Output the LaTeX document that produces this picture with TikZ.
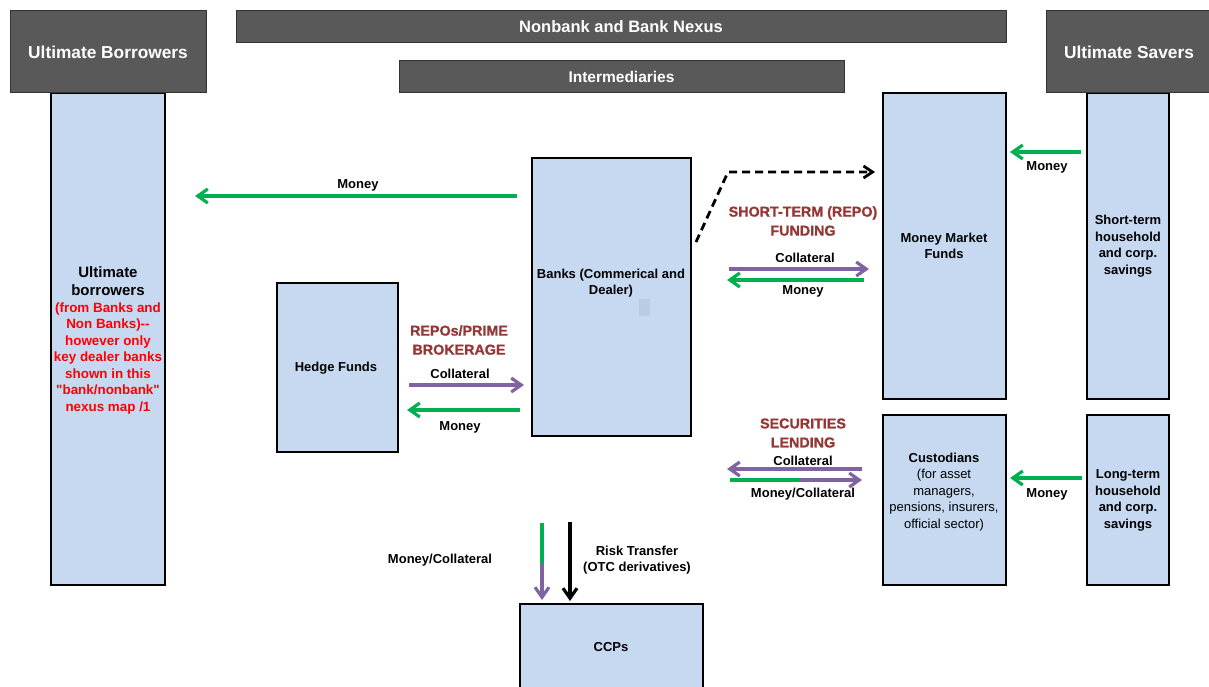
\documentclass[tikz,border=0pt]{standalone}
\usepackage{fontspec}
\setmainfont{Liberation Sans}
\newfontfamily\heavyfont[FakeBold=1.2]{Liberation Sans Bold}
\usetikzlibrary{arrows.meta}
\definecolor{hdr}{HTML}{595959}
\definecolor{boxblue}{HTML}{C6D9F1}
\definecolor{mgreen}{HTML}{00B050}
\definecolor{mpurple}{HTML}{8064A2}
\definecolor{dred}{HTML}{953735}
\definecolor{redtxt}{HTML}{FF0000}
\definecolor{patchblue}{HTML}{B8CCE4}
\tikzset{
  hdrbox/.style={draw=black!80, line width=1pt, fill=hdr, inner sep=0pt, text=white, font=\bfseries\fontsize{15.5}{18}\selectfont},
  bluebox/.style={draw=black, line width=2pt, fill=boxblue, inner sep=0pt},
  lbl/.style={font=\bfseries\fontsize{13}{16.5}\selectfont, align=center, inner sep=0pt},
  reglbl/.style={font=\fontsize{13}{16.5}\selectfont, align=center, inner sep=0pt},
  flowlbl/.style={text=dred, font=\heavyfont\fontsize{14.3}{19}\selectfont, align=center, inner sep=0pt},
  arr/.style={line width=3.2pt, -{Straight Barb[length=10pt,width=14pt]}},
  money/.style={arr, draw=mgreen},
  coll/.style={arr, draw=mpurple},
}
\begin{document}
\begin{tikzpicture}[x=1pt,y=-1pt]
\useasboundingbox (0,0) rectangle (1209,687);
% blue boxes
\node[bluebox, minimum width=114pt, minimum height=492pt] (ub) at (108,339) {};
\node[bluebox, minimum width=121pt, minimum height=169pt] (hf) at (337.5,367.5) {};
\node[bluebox, minimum width=159pt, minimum height=278pt] (banks) at (611.5,297) {};
\node[bluebox, minimum width=123pt, minimum height=306pt] (mmf) at (944.5,246) {};
\node[bluebox, minimum width=82pt, minimum height=306pt] (st) at (1128,246) {};
\node[bluebox, minimum width=123pt, minimum height=170pt] (cust) at (944.5,500) {};
\node[bluebox, minimum width=82pt, minimum height=170pt] (lt) at (1128,500) {};
\node[bluebox, minimum width=183pt, minimum height=96pt] (ccp) at (611.5,652) {};
\fill[patchblue] (639,299) rectangle (650,316);
% headers
\node[hdrbox, minimum width=196pt, minimum height=82pt, font=\bfseries\fontsize{17.3}{18}\selectfont] (ubh) at (108,52) {Ultimate Borrowers};
\node[hdrbox, minimum width=770pt, minimum height=32pt, font=\bfseries\fontsize{16.5}{18}\selectfont] (nexus) at (621,27) {Nonbank and Bank Nexus};
\node[hdrbox, minimum width=445pt, minimum height=32pt] (inter) at (621.5,77) {Intermediaries};
\node[hdrbox, minimum width=166pt, minimum height=82pt, font=\bfseries\fontsize{17.3}{18}\selectfont] (ush) at (1129,52) {Ultimate Savers};
% box texts
\node[lbl, font=\bfseries\fontsize{15}{18}\selectfont] (ubt) at (108,281) {Ultimate\\borrowers};
\node[lbl, text=redtxt, font=\bfseries\fontsize{13.4}{16.5}\selectfont] (ubr) at (108,358.5) {(from Banks and\\Non Banks)-{}-\\however only\\key dealer banks\\shown in this\\\textquotedbl bank/nonbank\textquotedbl\\nexus map /1};
\node[lbl] (hft) at (336,368) {Hedge Funds};
\node[lbl, font=\bfseries\fontsize{13}{16}\selectfont] (bt) at (611,283) {Banks (Commerical and\\Dealer)};
\node[lbl] (mmft) at (944,246) {Money Market\\Funds};
\node[lbl] (stt) at (1128,246) {Short-term\\household\\and corp.\\savings};
\node[reglbl] (custt) at (944,492) {\textbf{Custodians}\\(for asset\\managers,\\pensions, insurers,\\official sector)};
\node[lbl] (ltt) at (1128,500.5) {Long-term\\household\\and corp.\\savings};
\node[lbl] (ccpt) at (611,647) {CCPs};
% flow labels
\node[lbl] (l1) at (358,185) {Money};
\node[flowlbl] (l2) at (803,221) {SHORT-TERM (REPO)\\FUNDING};
\node[lbl] (l3) at (805,258) {Collateral};
\node[lbl] (l4) at (803,291) {Money};
\node[flowlbl] (l5) at (459,340) {REPOs/PRIME\\BROKERAGE};
\node[lbl] (l6) at (460,374) {Collateral};
\node[lbl] (l7) at (460,427) {Money};
\node[lbl] (l8) at (1047,167) {Money};
\node[flowlbl] (l9) at (803,433) {SECURITIES\\LENDING};
\node[lbl] (l10) at (803,461) {Collateral};
\node[lbl] (l11) at (803,494) {Money/Collateral};
\node[lbl] (l12) at (1047,494) {Money};
\node[lbl] (l13) at (440,560) {Money/Collateral};
\node[lbl] (l14) at (637,560) {Risk Transfer\\(OTC derivatives)};
% arrow end points
\coordinate (a1s) at (517,196); \coordinate (a1e) at (195,196);
\coordinate (d1) at (696,242); \coordinate (d2) at (728,172); \coordinate (d3) at (875,172);
\coordinate (a2s) at (729,269); \coordinate (a2e) at (869,269);
\coordinate (a3s) at (864,280); \coordinate (a3e) at (727,280);
\coordinate (a4s) at (409,385); \coordinate (a4e) at (524,385);
\coordinate (a5s) at (520,410); \coordinate (a5e) at (407,410);
\coordinate (a6s) at (1081,152); \coordinate (a6e) at (1010,152);
\coordinate (a7s) at (862,469); \coordinate (a7e) at (727,469);
\coordinate (a8s) at (730,480); \coordinate (a8m) at (800,480); \coordinate (a8e) at (862,480);
\coordinate (a9s) at (1082,478); \coordinate (a9e) at (1010,478);
\coordinate (a10s) at (542,523); \coordinate (a10m) at (542,563); \coordinate (a10e) at (542,600);
\coordinate (a11s) at (570,522); \coordinate (a11e) at (570,601);
% arrows
\draw[money] (a1s) -- (a1e);
\draw[black, line width=2.8pt, dash pattern=on 8pt off 5pt, -{Straight Barb[length=9pt,width=12pt]}] (d1) -- (d2) -- (d3);
\draw[coll] (a2s) -- (a2e);
\draw[money] (a3s) -- (a3e);
\draw[coll] (a4s) -- (a4e);
\draw[money] (a5s) -- (a5e);
\draw[money] (a6s) -- (a6e);
\draw[coll] (a7s) -- (a7e);
\draw[mgreen, line width=3.2pt] (a8s) -- (a8m);
\draw[coll] (a8m) -- (a8e);
\draw[money] (a9s) -- (a9e);
\draw[mgreen, line width=3.2pt] (a10s) -- (a10m);
\draw[coll] (a10m) -- (a10e);
\draw[arr, draw=black] (a11s) -- (a11e);
\end{tikzpicture}
\end{document}
